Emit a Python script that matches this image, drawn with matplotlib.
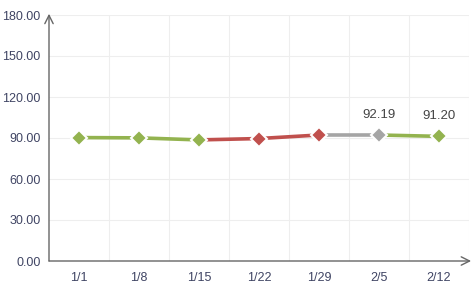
import matplotlib
matplotlib.use("Agg")
import matplotlib.pyplot as plt

categories = ["1/1", "1/8", "1/15", "1/22", "1/29", "2/5", "2/12"]
values = [90.3, 90.1, 88.6, 89.6, 92.2, 92.19, 91.20]
point_colors = ["#93b34f", "#93b34f", "#93b34f", "#c0504d", "#c0504d", "#a5a5a5", "#93b34f"]
labeled = [5, 6]
y_ticks = [0, 30, 60, 90, 120, 150, 180]

plt.rcParams['font.family'] = ['Liberation Sans', 'DejaVu Sans']

fig = plt.figure(figsize=(4.75, 2.88), dpi=100)
ax = fig.add_axes([49/475, 1-261/288, 420/475, 246/288])

x = list(range(len(categories)))
for i in range(1, len(x)):
    ax.plot([x[i-1], x[i]], [values[i-1], values[i]], color=point_colors[i],
            lw=2.6, solid_capstyle='butt', zorder=2)
for i in x:
    ax.plot(x[i], values[i], marker='D', ms=8, color=point_colors[i],
            mec='white', mew=1.5, zorder=3, ls='none')
for i in labeled:
    ax.annotate(f"{values[i]:.2f}", (x[i], values[i]), xytext=(0, 10),
                textcoords='offset points', ha='center', va='bottom',
                fontsize=9.5, color='#444444')

ax.set_xlim(-0.5, len(x) - 0.5)
ax.set_ylim(0, 180)
ax.set_yticks(y_ticks)
ax.set_yticklabels([f"{v:.2f}" for v in y_ticks])
ax.set_xticks(x)
ax.set_xticklabels(categories)
ax.tick_params(axis='both', which='both', length=0, labelsize=9, labelcolor='#3f4463')
ax.tick_params(axis='x', pad=8)
ax.tick_params(axis='y', pad=6)
ax.grid(False)
for v in y_ticks[1:]:
    ax.axhline(v, color='#eeeeee', lw=0.8, zorder=0)
for i in range(1, len(x) + 1):
    ax.axvline(i - 0.5, color='#eeeeee', lw=0.8, zorder=0)

for s in ax.spines.values():
    s.set_visible(False)

ax.annotate('', xy=(0, 1.005), xytext=(0, 0), xycoords='axes fraction',
            arrowprops=dict(arrowstyle='->,head_length=0.6,head_width=0.3', color='#666666', lw=1.0,
                            shrinkA=0, shrinkB=0), annotation_clip=False)
ax.annotate('', xy=(1.005, 0), xytext=(0, 0), xycoords='axes fraction',
            arrowprops=dict(arrowstyle='->,head_length=0.6,head_width=0.3', color='#666666', lw=1.0,
                            shrinkA=0, shrinkB=0), annotation_clip=False)

fig.savefig("out.png", dpi=100)
